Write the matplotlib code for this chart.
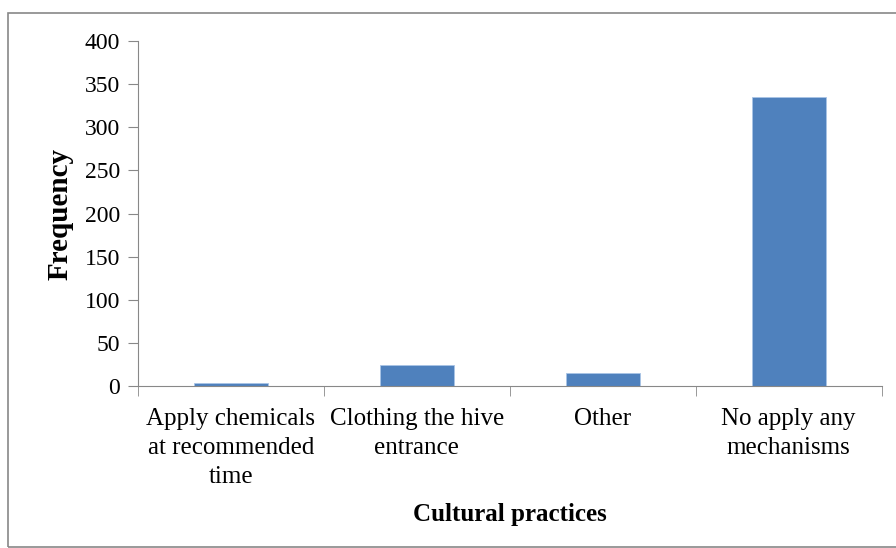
import matplotlib.pyplot as plt
from matplotlib.patches import Rectangle

categories = ['Apply chemicals\nat recommended\ntime', 'Clothing the hive\nentrance',
              'Other', 'No apply any\nmechanisms']
frequency = [4, 24, 15, 335]
yticks = [0, 50, 100, 150, 200, 250, 300, 350, 400]

plt.rcParams['font.family'] = ['Liberation Serif', 'DejaVu Serif']

fig = plt.figure(figsize=(8.96, 5.48), dpi=100)
ax = fig.add_axes([0.154, 0.2956, 0.830, 0.6294])

x = list(range(len(categories)))
ax.bar(x, frequency, width=0.4, color='#4f81bd', edgecolor='#a9c4e6', linewidth=0.6)

ax.set_xlim(-0.5, len(categories) - 0.5)
ax.set_ylim(0, 400)
ax.set_yticks(yticks)
ax.set_xticks(x)
ax.set_xticklabels(categories, fontsize=18, linespacing=1.4)
ax.set_xticks([i - 0.5 for i in range(len(categories) + 1)], minor=True)
ax.tick_params(axis='x', which='major', length=0, pad=16)
ax.tick_params(axis='x', which='minor', length=7, color='#888888', direction='out')
ax.tick_params(axis='y', labelsize=17, length=7, color='#888888', pad=6)

for s in ['top', 'right']:
    ax.spines[s].set_visible(False)
for s in ['left', 'bottom']:
    ax.spines[s].set_color('#888888')

ax.set_ylabel('Frequency', fontsize=21, fontweight='bold', labelpad=8)
ax.set_xlabel('Cultural practices', fontsize=18, fontweight='bold', labelpad=11)

fig.patches.append(Rectangle((8 / 896, 0.002), 1.0, 1 - 14 / 548, transform=fig.transFigure,
                             fill=False, edgecolor='#888888', linewidth=1.2))

fig.savefig('out.png', dpi=100)
